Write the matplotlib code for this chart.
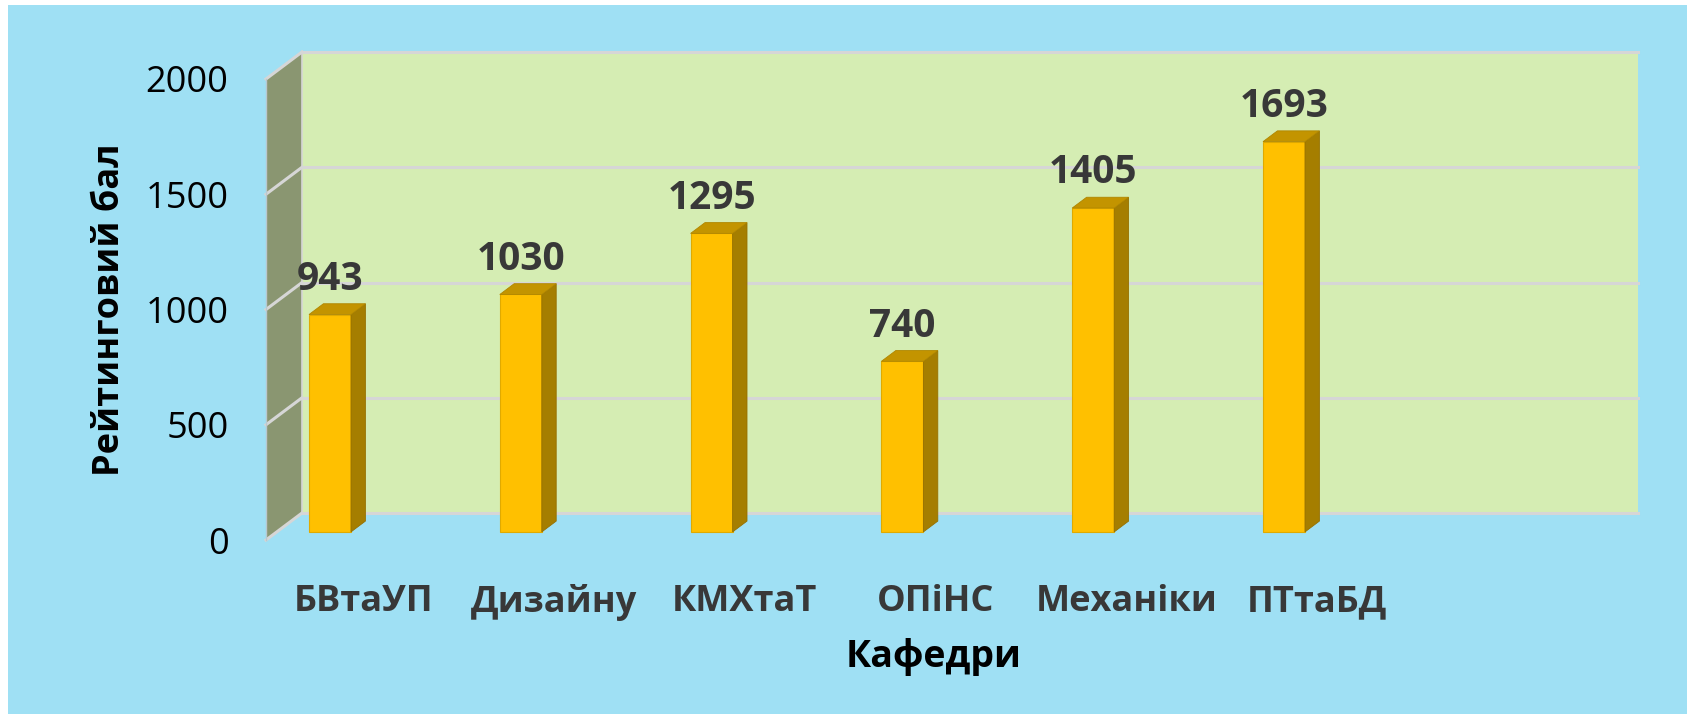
import matplotlib
matplotlib.use("Agg")
import matplotlib.pyplot as plt
from matplotlib.patches import Rectangle, Polygon
import numpy as np

# data
departments = ["БВтаУП", "Дизайну", "КМХтаТ", "ОПіНС", "Механіки", "ПТтаБД"]
scores = [943, 1030, 1295, 740, 1405, 1693]
y_ticks = [0, 500, 1000, 1500, 2000]

plt.rcParams['font.family'] = ['Open Sans', 'DejaVu Sans']

W, H = 1687, 714
fig = plt.figure(figsize=(W / 100, H / 100), dpi=100)
fig.patch.set_facecolor('white')

# light blue chart area (white strip on the left and top)
fig.patches.append(Rectangle((8 / W, 0), 1 - 8 / W, 1 - 5 / H, transform=fig.transFigure,
                             facecolor='#9FE0F4', edgecolor='none', zorder=-10))

# front plane of the 3D box, in pixels
px_left, px_right = 266, 1602
px_zero, px_top = 540, 79
ax = fig.add_axes([px_left / W, (H - px_zero) / H, (px_right - px_left) / W, (px_zero - px_top) / H])
ax.patch.set_visible(False)

x_per_px = 1 / 190.8
x0 = -(319.2 - px_left) * x_per_px
ax.set_xlim(x0, x0 + (px_right - px_left) * x_per_px)
ax.set_ylim(0, 2000)
v_per_px = 2000 / (px_zero - px_top)

# depth vector of the box (front -> back)
dx, dy = 36 * x_per_px, 27 * v_per_px
xl, xr = ax.get_xlim()

# back wall
ax.add_patch(Rectangle((xl + dx, dy), xr - xl, 2000, facecolor='#D5EDB3',
                       edgecolor='none', zorder=0, clip_on=False))
# left wall
ax.add_patch(Polygon([(xl, 0), (xl + dx, dy), (xl + dx, 2000 + dy), (xl, 2000)],
                     closed=True, facecolor='#8A9671', edgecolor='none', zorder=0, clip_on=False))

grid_c = '#D6D6D6'
for t in y_ticks:
    ax.plot([xl + dx, xr + dx], [t + dy, t + dy], color=grid_c, lw=2.2, zorder=1, clip_on=False)
    ax.plot([xl, xl + dx], [t, t + dy], color=grid_c, lw=2.2, zorder=1, clip_on=False)
ax.plot([xl + dx, xl + dx], [dy, 2000 + dy], color=grid_c, lw=1.2, zorder=1, clip_on=False)
ax.plot([xl, xl], [0, 2000], color='#B8C8D0', lw=1.0, zorder=1, clip_on=False)

# bars: front face, side and top
x = np.arange(len(departments))
bw = 42 * x_per_px
f0, f1 = 0.30, 0.70
bx = x + dx * f0
ax.bar(bx, scores, width=bw, bottom=dy * f0, color='#FFC000', edgecolor='#E0AA00',
       linewidth=0.8, zorder=3, clip_on=False)
ddx, ddy = dx * (f1 - f0), dy * (f1 - f0)
for xi, v in zip(bx, scores):
    r = xi + bw / 2
    l = xi - bw / 2
    b = dy * f0
    t = v + dy * f0
    ax.add_patch(Polygon([(r, b), (r + ddx, b + ddy), (r + ddx, t + ddy), (r, t)],
                         closed=True, facecolor='#A57E00', edgecolor='#957000', lw=0.6,
                         zorder=3, clip_on=False))
    ax.add_patch(Polygon([(l, t), (r, t), (r + ddx, t + ddy), (l + ddx, t + ddy)],
                         closed=True, facecolor='#C39400', edgecolor='#B08600', lw=0.6,
                         zorder=3, clip_on=False))
    ax.annotate(str(v), xy=(xi, t + ddy), xytext=(0, 10), textcoords='offset points',
                ha='center', va='baseline', fontsize=28, fontweight='bold',
                color='#383838', zorder=4, annotation_clip=False)

# axes text
ax.set_yticks(y_ticks)
ax.set_yticklabels([str(t) for t in y_ticks], fontsize=26, color='black')
ax.tick_params(axis='y', length=0, pad=27)
ax.set_xticks(x + 44 * x_per_px)
ax.set_xticklabels(departments, fontsize=26, fontweight='bold', color='#383838')
ax.tick_params(axis='x', length=0, pad=32)
for s in ax.spines.values():
    s.set_visible(False)

ax.set_xlabel('Кафедри', fontsize=27, fontweight='bold', color='black', labelpad=12)
ax.set_ylabel('Рейтинговий бал', fontsize=26, fontweight='bold', color='black')
ax.yaxis.set_label_coords(-(px_left - 128) / (px_right - px_left), 0.5)

fig.savefig('out.png', dpi=100, facecolor=fig.get_facecolor())
